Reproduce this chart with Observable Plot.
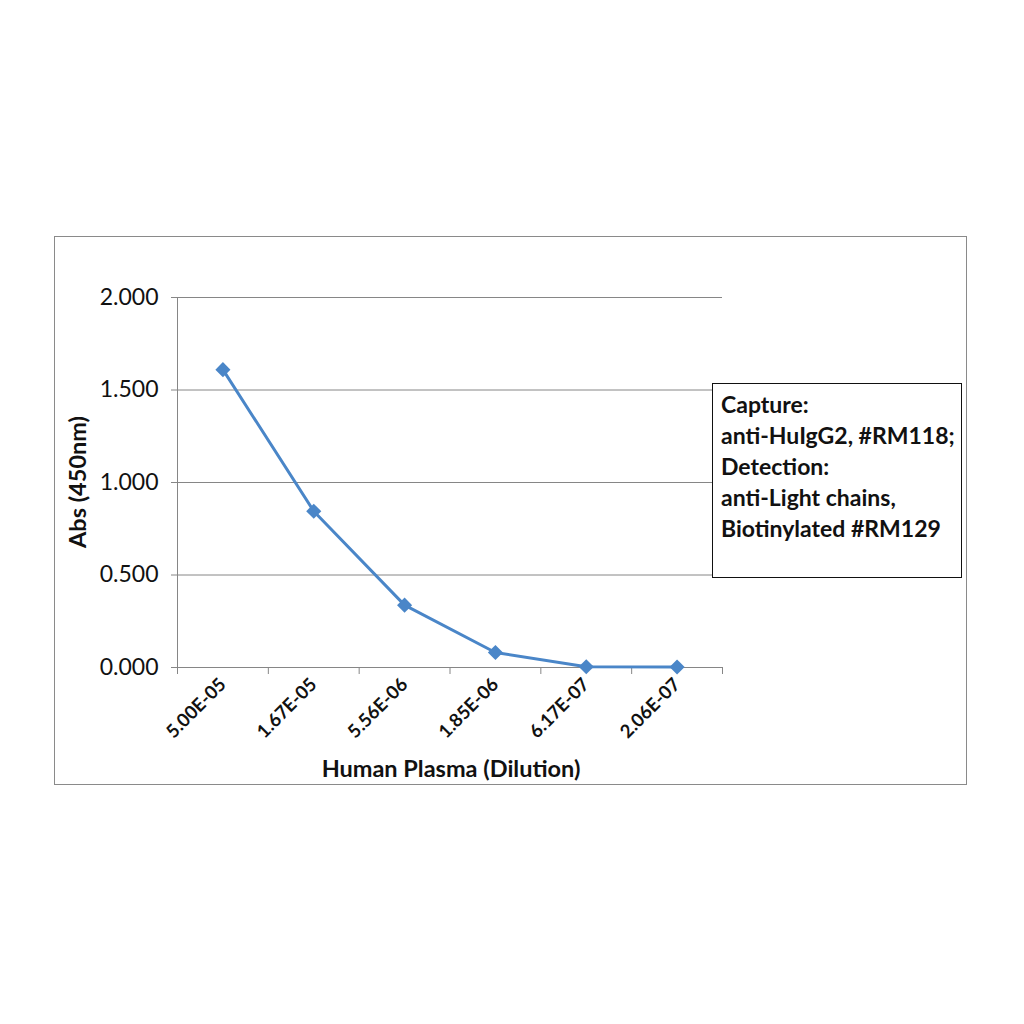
<!DOCTYPE html>
<html>
<head>
<meta charset="utf-8">
<script src="https://cdn.jsdelivr.net/npm/d3@7"></script>
<script src="https://cdn.jsdelivr.net/npm/@observablehq/plot@0.6"></script>
<style>
  html, body { margin: 0; padding: 0; background: #fff; }
  #wrap { position: relative; width: 1024px; height: 1024px; overflow: hidden; font-family: Lato, "Open Sans", sans-serif; }
  #wrap svg { position: absolute; left: 0; top: 0; }
  .frame { position: absolute; left: 54px; top: 236px; width: 913px; height: 549px; border: 1px solid #8a8a8a; box-sizing: border-box; }
  .legend { position: absolute; left: 712px; top: 383px; width: 250px; height: 195px; border: 1.5px solid #111; background: #fff; box-sizing: border-box; padding: 5px 0 0 8px; font-weight: bold; font-size: 23px; line-height: 31px; color: #111; white-space: nowrap; }
  .ytitle { position: absolute; left: 77px; top: 482px; transform: translate(-50%, -50%) rotate(-90deg); font-weight: bold; font-size: 23.5px; color: #111; white-space: nowrap; }
  .xtitle { position: absolute; left: 451px; top: 768px; transform: translate(-50%, -50%); font-weight: bold; font-size: 23.5px; color: #111; white-space: nowrap; }
</style>
</head>
<body>
<div id="wrap"></div>
<script>
const xLabels = ["5.00E-05", "1.67E-05", "5.56E-06", "1.85E-06", "6.17E-07", "2.06E-07"];
const absValues = [1.61, 0.845, 0.337, 0.081, 0.004, 0.003];
const yTicks = [0, 0.5, 1, 1.5, 2];
const legendLines = ["Capture:", "anti-HuIgG2, #RM118;", "Detection:", "anti-Light chains,", "Biotinylated #RM129"];
const xTitle = "Human Plasma (Dilution)";
const yTitle = "Abs (450nm)";

const data = xLabels.map((label, i) => ({pos: i + 0.5, label, v: absValues[i]}));
const gray = "#868686";
const blue = "#4a86c8";

const chart = Plot.plot({
  width: 1024,
  height: 1024,
  marginLeft: 177,
  marginRight: 302,
  marginTop: 297,
  marginBottom: 357,
  x: {type: "linear", domain: [0, xLabels.length]},
  y: {domain: [0, 2]},
  style: {fontFamily: "Lato, 'Open Sans', sans-serif", background: "transparent", color: "#111"},
  marks: [
    Plot.gridY(yTicks, {stroke: gray, strokeOpacity: 1}),
    Plot.axisY({ticks: yTicks, tickSize: 6, tickPadding: 13, tickFormat: d3.format(".3f"), fontSize: 23, label: null, stroke: gray, fill: "#111"}),
    Plot.axisX({ticks: d3.range(xLabels.length + 1), tickSize: 7, tickFormat: () => "", label: null, stroke: gray}),
    Plot.axisX({ticks: data.map(d => d.pos), tickSize: 0, tickFormat: v => xLabels[Math.round(v - 0.5)], tickRotate: -45, fontSize: 18.5, fontWeight: "bold", tickPadding: 14, label: null, fill: "#111"}),
    Plot.ruleX([0], {stroke: gray}),
    Plot.ruleY([0], {stroke: gray}),
    Plot.line(data, {x: "pos", y: "v", stroke: blue, strokeWidth: 3}),
    Plot.dot(data, {x: "pos", y: "v", symbol: "diamond2", fill: blue, stroke: "none", r: 6.8})
  ]
});

const wrap = document.getElementById("wrap");
const frame = document.createElement("div");
frame.className = "frame";
wrap.appendChild(frame);
wrap.appendChild(chart);
const legend = document.createElement("div");
legend.className = "legend";
legendLines.forEach(t => { const d = document.createElement("div"); d.textContent = t; legend.appendChild(d); });
wrap.appendChild(legend);
const yt = document.createElement("div"); yt.className = "ytitle"; yt.textContent = yTitle; wrap.appendChild(yt);
const xt = document.createElement("div"); xt.className = "xtitle"; xt.textContent = xTitle; wrap.appendChild(xt);
</script>
</body>
</html>
